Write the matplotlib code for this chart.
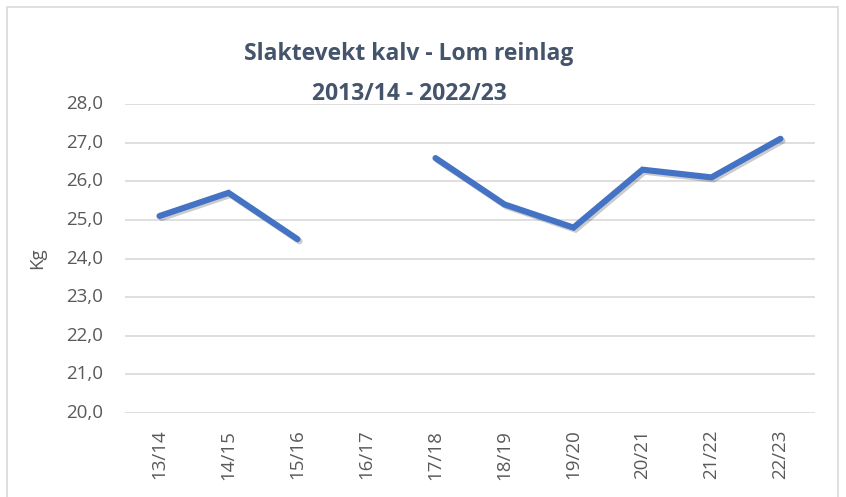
import numpy as np
import matplotlib.pyplot as plt
import matplotlib.patheffects as pe
import matplotlib.transforms as mtransforms
from matplotlib.patches import Rectangle

seasons = ['13/14', '14/15', '15/16', '16/17', '17/18',
           '18/19', '19/20', '20/21', '21/22', '22/23']
weights = [25.1, 25.7, 24.5, np.nan, 26.6, 25.4, 24.8, 26.3, 26.1, 27.1]
yticks = [20, 21, 22, 23, 24, 25, 26, 27, 28]

plt.rcParams['font.family'] = ['Open Sans', 'DejaVu Sans']

fig = plt.figure(figsize=(8.46, 4.97), dpi=100)
# chart frame
fig.patches.append(Rectangle((7 / 846, -0.05), 831 / 846, 1.05 - 7 / 497,
                             transform=fig.transFigure, fill=False,
                             edgecolor='#d9d9d9', linewidth=1.2))

ax = fig.add_axes([125 / 846, 1 - 413 / 497, 690 / 846, 309 / 497])
x = np.arange(len(seasons))
ax.plot(x, weights, color='#4472c4', linewidth=4.4, solid_capstyle='round',
        solid_joinstyle='miter',
        path_effects=[pe.SimpleLineShadow(offset=(1.5, -1.5), alpha=0.2,
                                          shadow_color='black'),
                      pe.Normal()])

ax.set_xlim(-0.5, len(seasons) - 0.5)
ax.set_ylim(20, 28)
ax.set_yticks(yticks)
ax.set_yticklabels([])
# y labels placed by hand so the gap to the gridlines is exact
trans = mtransforms.blended_transform_factory(ax.transAxes, ax.transData)
for v in yticks:
    ax.text(-0.032, v, f'{v:.1f}'.replace('.', ','), transform=trans,
            ha='right', va='center', fontsize=13.5, color='#595959')
ax.set_xticks(x)
ax.set_xticklabels(seasons, rotation=90)
ax.yaxis.set_tick_params(length=0)
ax.xaxis.set_tick_params(length=0, labelsize=13.5, labelcolor='#595959', pad=12)
ax.grid(axis='y', color='#d9d9d9', linewidth=1.2)
ax.set_axisbelow(True)
for s in ax.spines.values():
    s.set_visible(False)

ax.set_ylabel('Kg', fontsize=13.5, color='#595959')
ax.yaxis.set_label_coords(-0.114, 0.5)

fig.text(409 / 846, 1 - 74 / 497, 'Slaktevekt kalv - Lom reinlag\n2013/14 - 2022/23',
         ha='center', va='center', fontsize=16.5, fontweight='bold',
         color='#44546a', linespacing=1.9)

fig.savefig('out.png', dpi=100)
